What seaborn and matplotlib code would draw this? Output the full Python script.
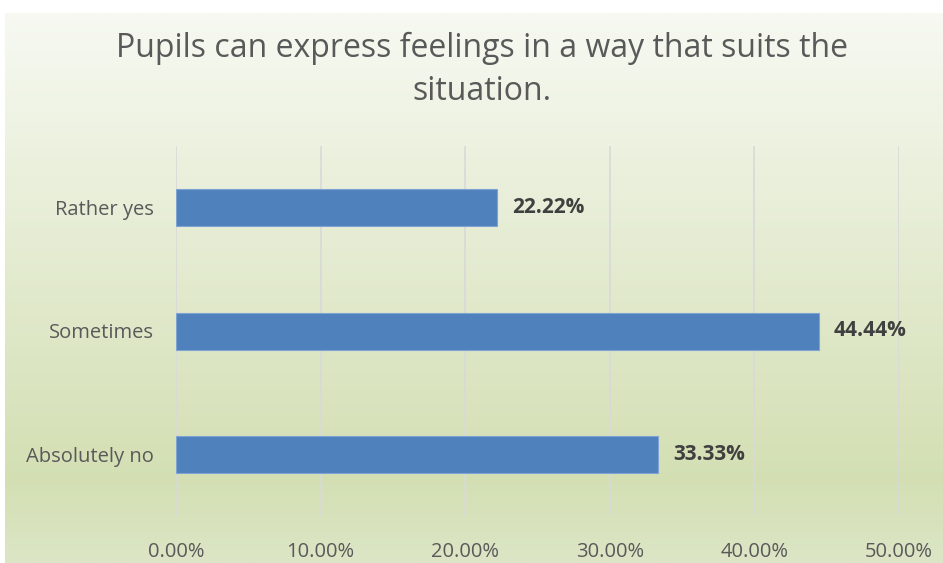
import numpy as np
import pandas as pd
import matplotlib.pyplot as plt
from matplotlib.colors import LinearSegmentedColormap
from matplotlib.ticker import FuncFormatter
import seaborn as sns

# dados
categories = ['Rather yes', 'Sometimes', 'Absolutely no']
values = [22.22, 44.44, 33.33]
x_ticks = [0, 10, 20, 30, 40, 50]
title = 'Pupils can express feelings in a way that suits the\nsituation.'

sns.set_style('white')
plt.rcParams['font.family'] = ['Open Sans', 'DejaVu Sans']

df = pd.DataFrame({'category': categories, 'value': values})

fig = plt.figure(figsize=(9.43, 5.63), dpi=100)

# fundo em degradê
bg = fig.add_axes([5 / 943, 0, 1 - 5 / 943, 1 - 13 / 563], zorder=-5)
cmap = LinearSegmentedColormap.from_list('bg', [(0, '#f7f9f2'), (0.85, '#d3dfb3'), (1, '#dce6c6')])
bg.imshow(np.linspace(0, 1, 256).reshape(-1, 1), aspect='auto', cmap=cmap, extent=[0, 1, 1, 0])
bg.axis('off')

ax = fig.add_axes([176 / 943, 1 - 516 / 563, 723 / 943, 370 / 563])
ax.set_facecolor('none')
sns.barplot(data=df, x='value', y='category', order=categories, color='#4f81bd',
            saturation=1, width=0.3, edgecolor='#7fa3d3', linewidth=0.8, ax=ax, zorder=3)

ax.set_xlim(0, 50)
ax.set_xticks(x_ticks)
ax.xaxis.set_major_formatter(FuncFormatter(lambda v, p: f'{v:.2f}%'))
ax.grid(axis='x', color='#d9d9d9', linewidth=1.2, zorder=0)
ax.grid(axis='y', visible=False)
for s in ax.spines.values():
    s.set_visible(False)
ax.set_xlabel('')
ax.set_ylabel('')
ax.tick_params(axis='x', length=0, pad=19, labelsize=14.5, labelcolor='#595959')
ax.tick_params(axis='y', length=0, pad=16, labelsize=14.5, labelcolor='#595959')

for i, v in enumerate(values):
    ax.annotate(f'{v:.2f}%', xy=(v, i), xytext=(11, 0), textcoords='offset points',
                ha='left', va='center', fontsize=15, fontweight='bold', color='#404040')

fig.text(482 / 943, 1 - 70 / 563, title, ha='center', va='center', fontsize=23,
         color='#595959', linespacing=1.4)

fig.savefig('out.png', dpi=100)
